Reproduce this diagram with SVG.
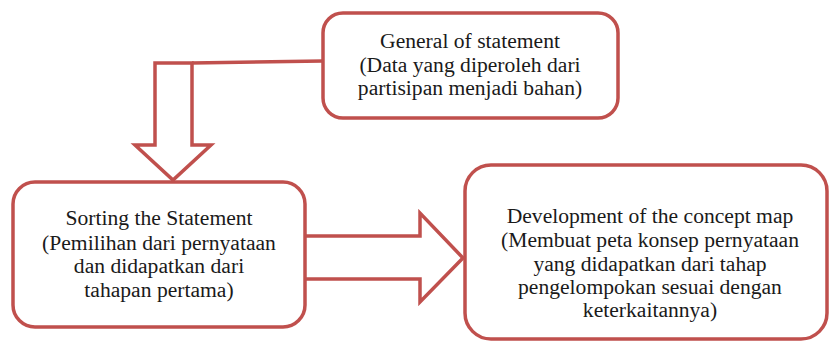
<svg xmlns="http://www.w3.org/2000/svg" width="830" height="341" viewBox="0 0 830 341">
<style>
.box{fill:#fff;stroke:#C0504D;stroke-width:3.5}
.arr{fill:#fff;stroke:#C0504D;stroke-width:3.5;stroke-linejoin:miter}
.t{font-family:"Liberation Serif","Times New Roman",serif;font-size:21.6px;fill:#1a1a1a;text-anchor:middle}
</style>
<rect width="830" height="341" fill="#fff"/>
<g id="connectors">
<polygon class="arr" points="155,63 192,63 192,145 211,145 173,180 135,145 155,145"/>
<line class="arr" x1="192" y1="63" x2="323" y2="61"/>
<polygon class="arr" points="300,236 420,236 420,213 463,258 420,302 420,279 300,279"/>
</g>
<g id="general">
<rect class="box" x="323" y="13" width="295" height="105" rx="20"/>
<text class="t" x="470" y="48">General of statement</text>
<text class="t" x="470" y="72">(Data yang diperoleh dari</text>
<text class="t" x="470" y="95">partisipan menjadi bahan)</text>
</g>
<g id="sorting">
<rect class="box" x="13" y="182" width="292" height="145" rx="22"/>
<text class="t" x="159" y="225">Sorting the Statement</text>
<text class="t" x="159" y="250">(Pemilihan dari pernyataan</text>
<text class="t" x="159" y="273">dan didapatkan dari</text>
<text class="t" x="159" y="297">tahapan pertama)</text>
</g>
<g id="development">
<rect class="box" x="465" y="165" width="362" height="174" rx="26"/>
<text class="t" x="650" y="223">Development of the concept map</text>
<text class="t" x="650" y="247">(Membuat peta konsep pernyataan</text>
<text class="t" x="650" y="271">yang didapatkan dari tahap</text>
<text class="t" x="650" y="294">pengelompokan sesuai dengan</text>
<text class="t" x="650" y="317">keterkaitannya)</text>
</g>
</svg>
